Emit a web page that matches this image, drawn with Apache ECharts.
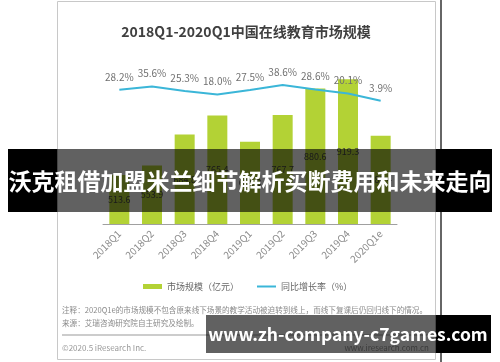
<!DOCTYPE html>
<html>
<head>
<meta charset="utf-8">
<script src="https://cdn.jsdelivr.net/npm/echarts@6/dist/echarts.min.js"></script>
<style>
html,body{margin:0;padding:0;background:#fff;}
#chart{width:500px;height:362px;}
</style>
</head>
<body>
<div id="chart"></div>
<script>
var categories = ['2018Q1','2018Q2','2018Q3','2018Q4','2019Q1','2019Q2','2019Q3','2019Q4','2020Q1e'];
var marketSize = [513.6, 553.9, 684.8, 765.4, 654.8, 767.7, 880.6, 919.3, 680.4];
var growthRate = [28.2, 35.6, 25.3, 18.0, 27.5, 38.6, 28.6, 20.1, 3.9];
var seriesNames = ['市场规模（亿元）', '同比增长率（%）'];
var titleText = '2018Q1-2020Q1中国在线教育市场规模';
var noteText = '注释：2020Q1e的市场规模不包含原来线下场景的教学活动被迫转到线上，而线下复课后仍回归线下的情况。';
var sourceText = '来源：艾瑞咨询研究院自主研究及绘制。';
var copyrightText = '©2020.5 iResearch Inc.';
var siteText = 'www.iresearch.com.cn';
var bannerText = '沃克租借加盟米兰细节解析买断费用和未来走向';
var watermarkText = 'www.zh-company-c7games.com';

var FONT = '"Noto Sans CJK SC", "Noto Sans", sans-serif';
var chart = echarts.init(document.getElementById('chart'), null, {renderer: 'canvas'});
var option = {
  backgroundColor: '#ffffff',
  animation: false,
  textStyle: {fontFamily: FONT},
  grid: {left: 103, right: 103, top: 60, bottom: 138, containLabel: false},
  legend: {
    left: 138, top: 277,
    itemWidth: 19, itemHeight: 5, itemGap: 18,
    textStyle: {fontSize: 9, color: '#666', fontFamily: FONT},
    data: [
      {name: seriesNames[0], icon: 'rect'},
      {name: seriesNames[1], icon: 'path://M0,0 L19,0 L19,2 L0,2 Z', itemStyle: {color: '#3bb6d8'}}
    ]
  },
  xAxis: {
    type: 'category', data: categories,
    axisLine: {onZero: false, lineStyle: {color: '#a0a0a0', width: 1}},
    axisTick: {show: false},
    axisLabel: {rotate: 45, fontSize: 10, color: '#8c8c8c', margin: 8, interval: 0, fontFamily: FONT}
  },
  yAxis: [
    {type: 'value', min: 306, max: 1001, show: false, splitLine: {show: false}},
    {type: 'value', min: -270, max: 94.4, show: false, splitLine: {show: false}}
  ],
  series: [
    {
      name: seriesNames[0], type: 'bar', data: marketSize, barWidth: 20,
      itemStyle: {color: '#b3d235'},
      label: {show: true, position: 'inside', fontSize: 9, color: '#444', formatter: function(p){return p.value.toFixed(1);}}
    },
    {
      name: seriesNames[1], type: 'line', yAxisIndex: 1, data: growthRate,
      symbol: 'circle', symbolSize: 0, showSymbol: true,
      lineStyle: {color: '#3bb6d8', width: 2}, itemStyle: {color: '#3bb6d8'},
      label: {show: true, position: 'top', distance: 8, fontSize: 10, color: '#707070', formatter: function(p){return p.value.toFixed(1) + '%';}},
      labelLayout: {hideOverlap: false},
      z: 5
    }
  ],
  graphic: [
    {type: 'rect', z: 50, shape: {x: 57.5, y: 1.5, width: 378, height: 358}, style: {fill: 'none', stroke: '#c8c8c8', lineWidth: 1}},
    {type: 'line', z: 50, shape: {x1: 441, y1: 0, x2: 441, y2: 362}, style: {stroke: '#333', lineWidth: 1.5}},
    {type: 'text', z: 50, x: 246, y: 32, style: {text: titleText, fill: '#404040', font: 'bold 14px ' + FONT, textAlign: 'center', textVerticalAlign: 'middle'}},
    {type: 'text', z: 50, x: 62, y: 310, style: {text: noteText, fill: '#8a8a8a', font: '7.6px ' + FONT, textVerticalAlign: 'middle'}},
    {type: 'text', z: 50, x: 62, y: 323, style: {text: sourceText, fill: '#8a8a8a', font: '7.6px ' + FONT, textVerticalAlign: 'middle'}},
    {type: 'line', z: 50, shape: {x1: 62, y1: 335, x2: 430, y2: 335}, style: {stroke: '#999', lineWidth: 1}},
    {type: 'text', z: 50, x: 62, y: 348, style: {text: copyrightText, fill: '#999', font: '8px ' + FONT, textVerticalAlign: 'middle'}},
    {type: 'text', z: 50, x: 429, y: 348, style: {text: siteText, fill: '#999', font: '8px ' + FONT, textAlign: 'right', textVerticalAlign: 'middle'}},
    {type: 'rect', z: 100, shape: {x: 8, y: 149, width: 49.5, height: 63}, style: {fill: '#000'}},
    {type: 'rect', z: 100, shape: {x: 57.5, y: 149, width: 378, height: 63}, style: {fill: 'rgba(0,0,0,0.62)'}},
    {type: 'rect', z: 100, shape: {x: 435.5, y: 149, width: 56.5, height: 63}, style: {fill: '#000'}},
    {type: 'text', z: 101, x: 250, y: 181, style: {text: bannerText, fill: '#fff', font: 'bold 23px ' + FONT, textAlign: 'center', textVerticalAlign: 'middle'}},
    {type: 'rect', z: 100, shape: {x: 206, y: 315, width: 229.5, height: 38}, style: {fill: 'rgba(0,0,0,0.62)'}},
    {type: 'rect', z: 100, shape: {x: 435.5, y: 315, width: 55.5, height: 38}, style: {fill: '#000'}},
    {type: 'text', z: 101, x: 348, y: 334, style: {text: watermarkText, fill: '#fff', font: 'bold 17.5px ' + FONT, textAlign: 'center', textVerticalAlign: 'middle'}}
  ]
};
chart.setOption(option);
</script>
</body>
</html>
